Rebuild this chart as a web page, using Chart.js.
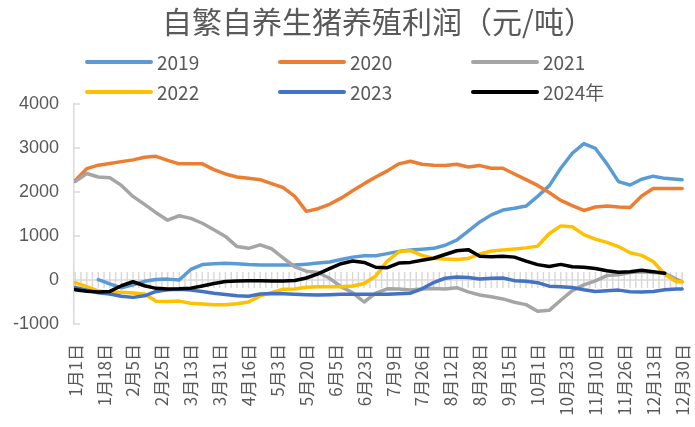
<!DOCTYPE html>
<html>
<head>
<meta charset="utf-8">
<script src="https://cdn.jsdelivr.net/npm/chart.js@4.4.1/dist/chart.umd.min.js"></script>
<style>
  html, body { margin: 0; padding: 0; background: #fff; }
  #wrap { width: 695px; height: 427px; position: relative; }
</style>
</head>
<body>
<div id="wrap"><canvas id="chart"></canvas></div>
<script>
// === Data ===
const chartTitle = '自繁自养生猪养殖利润（元/吨）';
const seriesNames = ['2019', '2020', '2021', '2022', '2023', '2024年'];
const seriesColors = ['#5B9BD5', '#ED7D31', '#A5A5A5', '#FFC000', '#4472C4', '#000000'];
const tickLabels = ['1月1日', '1月18日', '2月5日', '2月25日', '3月13日', '3月31日', '4月16日', '5月3日',
  '5月20日', '6月5日', '6月23日', '7月9日', '7月26日', '8月12日', '8月28日', '9月15日', '10月1日',
  '10月23日', '11月10日', '11月26日', '12月13日', '12月30日'];
const yTicks = [-1000, 0, 1000, 2000, 3000, 4000];

// category position of each reading (one label every 5 categories)
const xIdx = [0, 2, 4, 6, 8, 10, 12, 14, 16, 18, 20, 22, 24, 26, 28, 30, 32, 34, 36, 38,
  40, 42, 44, 46, 48, 50, 52, 54, 56, 58, 60, 62, 64, 66, 68, 70, 72, 74, 76, 78,
  80, 82, 84, 86, 88, 90, 92, 94, 96, 98, 100, 102, 104, 105];

const y2019 = [null, null, 10, -90, -180, -110, -30, 10, 20, 0,
  240, 350, 370, 380, 370, 350, 340, 340, 340, 340,
  360, 385, 410, 465, 520, 552, 552, 600, 650, 680,
  700, 720, 790, 905, 1110, 1320, 1480, 1590, 1630, 1680,
  1900, 2140, 2540, 2880, 3100, 2990, 2640, 2235, 2160, 2290,
  2360, 2310, 2290, 2280];
const y2020 = [2260, 2530, 2610, 2650, 2690, 2730, 2790, 2810, 2720, 2640,
  2640, 2640, 2510, 2410, 2340, 2310, 2280, 2190, 2100, 1900,
  1560, 1620, 1720, 1860, 2030, 2190, 2340, 2480, 2640, 2700,
  2630, 2610, 2600, 2630, 2570, 2600, 2540, 2540, 2410, 2280,
  2150, 1990, 1810, 1690, 1580, 1660, 1680, 1660, 1650, 1910,
  2080, 2080, 2080, 2080];
const y2021 = [2240, 2420, 2340, 2325, 2150, 1900, 1720, 1530, 1360, 1460,
  1400, 1290, 1140, 990, 760, 720, 800, 710, 500, 300,
  200, 170, 40, -150, -290, -500, -300, -200, -205, -225,
  -205, -195, -205, -175, -270, -340, -380, -430, -505, -560,
  -710, -690, -460, -240, -110, -20, 100, 120, 170, 190,
  170, 150, 20, -40];
const y2022 = [-60, -150, -250, -275, -280, -295, -320, -485, -490, -480,
  -530, -545, -560, -565, -540, -500, -360, -290, -210, -205,
  -165, -152, -152, -152, -135, -80, 90, 430, 640, 670,
  560, 490, 478, 465, 490, 590, 660, 680, 705, 730,
  770, 1050, 1230, 1210, 1030, 930, 855, 760, 620, 560,
  420, 130, -38, -40];
const y2023 = [-170, -230, -290, -320, -370, -395, -360, -260, -220, -210,
  -230, -260, -300, -330, -360, -370, -320, -305, -315, -325,
  -335, -340, -335, -325, -325, -325, -325, -325, -315, -300,
  -200, -60, 40, 70, 55, 25, 40, 45, -15, -30,
  -60, -140, -152, -170, -220, -260, -245, -230, -265, -275,
  -260, -220, -205, -205];
const y2024 = [-220, -255, -275, -260, -130, -40, -130, -190, -205, -200,
  -185, -135, -80, -35, -20, -15, -15, -22, -20, -10,
  45, 140, 260, 370, 430, 400, 290, 280, 385, 400,
  450, 495, 580, 665, 690, 540, 530, 540, 520, 430,
  350, 305, 355, 300, 290, 260, 210, 175, 190, 220,
  190, 152, null, null];

const seriesValues = [y2019, y2020, y2021, y2022, y2023, y2024];
const textColor = '#595959';
const axisColor = '#D9D9D9';

// === Title, legend, zero line ===
const decor = {
  id: 'decor',
  beforeDatasetsDraw(chart) {
    const { ctx, chartArea, scales: { x, y } } = chart;
    const y0 = y.getPixelForValue(0);
    ctx.save();
    ctx.strokeStyle = axisColor;
    ctx.lineWidth = 1.5;
    ctx.beginPath();
    ctx.moveTo(chartArea.left, y0);
    ctx.lineTo(x.getPixelForValue(105), y0);
    for (let i = 0; i <= 105; i++) {
      const px = x.getPixelForValue(i);
      ctx.moveTo(px, y0 - 8);
      ctx.lineTo(px, y0 + 8);
    }
    yTicks.forEach(v => {
      const py = y.getPixelForValue(v);
      ctx.moveTo(chartArea.left, py);
      ctx.lineTo(chartArea.left + 6, py);
    });
    ctx.stroke();
    ctx.restore();
  },
  afterDraw(chart) {
    const ctx = chart.ctx;
    ctx.save();
    ctx.fillStyle = textColor;
    ctx.textAlign = 'center';
    ctx.textBaseline = 'middle';
    ctx.font = '30px "Noto Sans CJK SC"';
    ctx.fillText(chartTitle, 378, 22);

    ctx.font = '19px "Noto Sans CJK SC"';
    ctx.textAlign = 'left';
    chart.data.datasets.forEach((ds, k) => {
      const col = k % 3, row = Math.floor(k / 3);
      const lx = 87 + col * 193, ly = 62 + row * 30;
      ctx.strokeStyle = ds.borderColor;
      ctx.lineWidth = 4;
      ctx.lineCap = 'round';
      ctx.beginPath();
      ctx.moveTo(lx, ly);
      ctx.lineTo(lx + 64, ly);
      ctx.stroke();
      ctx.fillText(ds.label, lx + 70, ly + 1);
    });
    ctx.restore();
  }
};

// === Chart.js Setup ===
const datasets = seriesNames.map((name, k) => ({
  label: name,
  data: xIdx.map((xv, j) => ({ x: xv, y: seriesValues[k][j] })),
  borderColor: seriesColors[k],
  backgroundColor: seriesColors[k],
  borderWidth: 3.5,
  pointRadius: 0,
  tension: 0,
  borderJoinStyle: 'round',
  borderCapStyle: 'round',
  order: seriesNames.length - k
}));

new Chart(document.getElementById('chart'), {
  type: 'line',
  data: { datasets },
  options: {
    responsive: true,
    maintainAspectRatio: false,
    animation: false,
    layout: { padding: { top: 104, right: 10, left: 0, bottom: 0 } },
    plugins: {
      legend: { display: false },
      title: { display: false },
      tooltip: { enabled: false }
    },
    scales: {
      x: {
        type: 'linear',
        min: -0.2,
        max: 105.5,
        afterBuildTicks(s) { s.ticks = tickLabels.map((_, k) => ({ value: k * 5 })); },
        afterFit(s) { s.height = 103; s.paddingLeft = 0; s.paddingRight = 0; },
        ticks: {
          autoSkip: false,
          minRotation: 90,
          maxRotation: 90,
          padding: 20,
          color: textColor,
          font: { size: 17, family: '"Noto Sans CJK SC"' },
          callback: (v) => tickLabels[Math.round(v / 5)] ?? ''
        },
        grid: { display: false, drawTicks: false },
        border: { display: false }
      },
      y: {
        min: -1000,
        max: 4000,
        afterBuildTicks(s) { s.ticks = yTicks.map(v => ({ value: v })); },
        afterFit(s) { s.width = 74; s.paddingTop = 0; s.paddingBottom = 0; },
        ticks: {
          padding: 15,
          color: textColor,
          font: { size: 18, family: '"Liberation Sans", Arial, sans-serif' },
          callback: (v) => String(v)
        },
        grid: { display: false, drawTicks: false },
        border: { color: axisColor, width: 1.5 }
      }
    }
  },
  plugins: [decor]
});
</script>
</body>
</html>
